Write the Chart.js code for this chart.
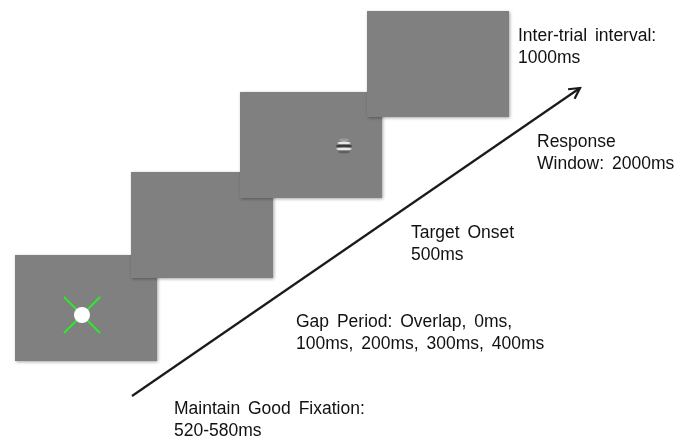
<!DOCTYPE html>
<html>
<head>
<meta charset="utf-8">
<script src="https://cdn.jsdelivr.net/npm/chart.js@4/dist/chart.umd.min.js"></script>
<style>
  html, body { margin: 0; padding: 0; background: #fff; }
  #wrap { width: 696px; height: 443px; }
</style>
</head>
<body>
<div id="wrap"><canvas id="trial"></canvas></div>
<script>
// pantallas del ensayo (coordenadas del dibujo, y hacia abajo)
const panelX = [15, 131, 240, 367];
const panelY = [255, 172, 92, 11];
const panelW = 142;
const panelH = 106;

// flecha de tiempo
const arrowPts = [{x: 132, y: 396}, {x: 580, y: 88}];

// fijacion y objetivo
const fixation = [{x: 82, y: 315}];
const target = [{x: 344, y: 146}];

// etiquetas
const labelX = [518, 537, 411, 296, 174];
const labelY = [36, 142, 233, 322, 409];
const labelLines = [
  ['Inter-trial interval:', '1000ms'],
  ['Response', 'Window: 2000ms'],
  ['Target Onset', '500ms'],
  ['Gap Period: Overlap, 0ms,', '100ms, 200ms, 300ms, 400ms'],
  ['Maintain Good Fixation:', '520-580ms']
];

const dibujoPlugin = {
  id: 'dibujo',
  beforeDatasetsDraw(chart) {
    const {ctx, scales: {x, y}} = chart;
    ctx.save();
    // pantallas grises con sombra suave
    panelX.forEach((px, i) => {
      const x0 = x.getPixelForValue(px), y0 = y.getPixelForValue(panelY[i]);
      const w = x.getPixelForValue(px + panelW) - x0;
      const h = y.getPixelForValue(panelY[i] + panelH) - y0;
      ctx.shadowColor = 'rgba(0,0,0,0.35)';
      ctx.shadowBlur = 3;
      ctx.shadowOffsetX = 1;
      ctx.shadowOffsetY = 1;
      ctx.fillStyle = '#808080';
      ctx.fillRect(x0, y0, w, h);
    });
    ctx.shadowColor = 'transparent';
    // cruz verde de fijacion
    fixation.forEach(p => {
      const cx = x.getPixelForValue(p.x), cy = y.getPixelForValue(p.y);
      ctx.strokeStyle = '#2ee82e';
      ctx.lineWidth = 2;
      ctx.beginPath();
      ctx.moveTo(cx - 18, cy - 18); ctx.lineTo(cx + 18, cy + 18);
      ctx.moveTo(cx + 18, cy - 18); ctx.lineTo(cx - 18, cy + 18);
      ctx.stroke();
    });
    // gabor del objetivo
    target.forEach(p => {
      const cx = x.getPixelForValue(p.x), cy = y.getPixelForValue(p.y);
      const bandas = [['#9a9a9a', -7], ['#e8e8e8', -4], ['#3a3a3a', -1], ['#e8e8e8', 2], ['#606060', 5]];
      bandas.forEach(([c, dy]) => {
        ctx.fillStyle = c;
        ctx.beginPath();
        ctx.ellipse(cx, cy + dy + 1, 9 - Math.abs(dy) * 0.6, 1.4, 0, 0, Math.PI * 2);
        ctx.fill();
      });
    });
    ctx.restore();
  },
  afterDatasetsDraw(chart) {
    const {ctx, scales: {x, y}} = chart;
    ctx.save();
    // punta de la flecha
    const a = arrowPts[0], b = arrowPts[1];
    const bx = x.getPixelForValue(b.x), by = y.getPixelForValue(b.y);
    const ang = Math.atan2(by - y.getPixelForValue(a.y), bx - x.getPixelForValue(a.x));
    ctx.strokeStyle = '#1a1a1a';
    ctx.lineWidth = 2.2;
    ctx.beginPath();
    ctx.moveTo(bx - 12 * Math.cos(ang - 0.5), by - 12 * Math.sin(ang - 0.5));
    ctx.lineTo(bx, by);
    ctx.lineTo(bx - 12 * Math.cos(ang + 0.5), by - 12 * Math.sin(ang + 0.5));
    ctx.stroke();
    // textos
    ctx.fillStyle = '#111';
    ctx.font = '17.5px "Liberation Sans", Arial, sans-serif';
    ctx.wordSpacing = '3px';
    ctx.textBaseline = 'middle';
    labelLines.forEach((lines, i) => {
      lines.forEach((t, j) => {
        ctx.fillText(t, x.getPixelForValue(labelX[i]), y.getPixelForValue(labelY[i] + j * 22));
      });
    });
    ctx.restore();
  }
};

new Chart(document.getElementById('trial'), {
  type: 'scatter',
  data: {
    datasets: [
      {
        data: arrowPts,
        showLine: true,
        borderColor: '#1a1a1a',
        borderWidth: 2.2,
        pointRadius: 0
      },
      {
        data: fixation,
        pointRadius: 8,
        pointBackgroundColor: '#ffffff',
        pointBorderWidth: 0
      }
    ]
  },
  options: {
    responsive: true,
    maintainAspectRatio: false,
    animation: false,
    layout: { padding: 0, autoPadding: false },
    plugins: { legend: { display: false }, tooltip: { enabled: false } },
    scales: {
      x: { type: 'linear', min: 0, max: 696, display: false },
      y: { type: 'linear', min: 0, max: 443, reverse: true, display: false }
    }
  },
  plugins: [dibujoPlugin]
});
</script>
</body>
</html>
